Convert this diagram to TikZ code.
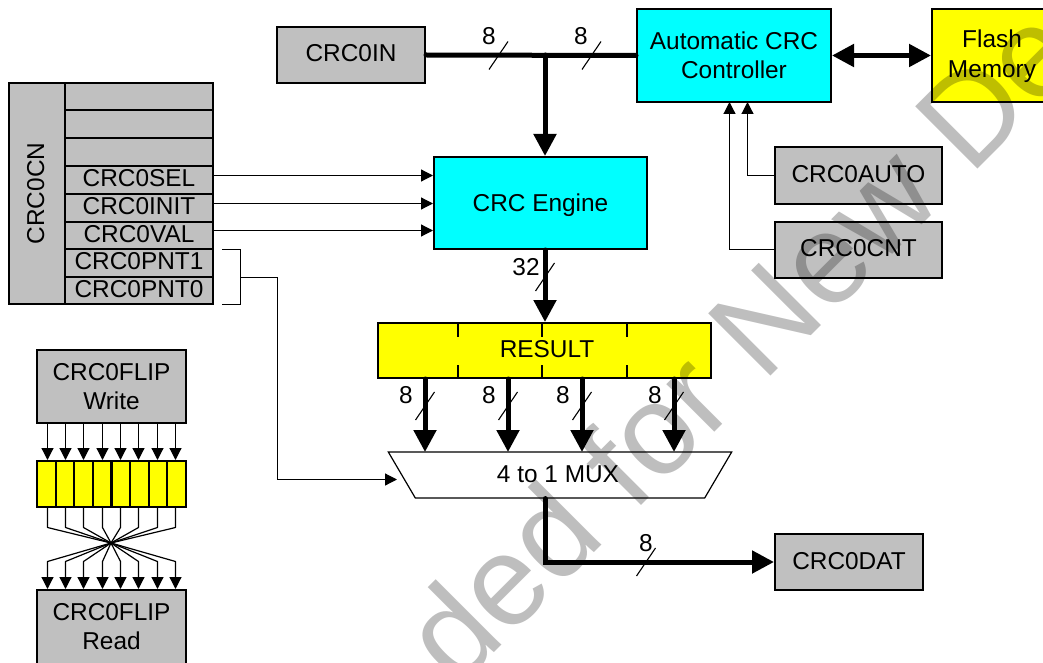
\documentclass[tikz,border=0pt]{standalone}
\usepackage{fontspec}
\setmainfont{Liberation Sans}
\usetikzlibrary{arrows.meta,shapes.geometric,calc}
\definecolor{boxgray}{RGB}{192,192,192}
\definecolor{wmgray}{RGB}{190,190,190}
\definecolor{pureyellow}{RGB}{255,255,0}
\definecolor{purecyan}{RGB}{0,255,255}
\tikzset{
  every node/.style={font=\fontsize{24.4}{29.5}\selectfont,inner sep=0pt,text height=18pt,text depth=4pt},
  box/.style={draw=black,line width=2pt,minimum width=#1,align=center},
  graybox/.style={box=#1,fill=boxgray,minimum height=56pt},
  cyanbox/.style={box=#1,fill=purecyan,text height=,text depth=},
  regrow/.style={draw=black,line width=2pt,fill=boxgray,minimum width=148pt,text depth=5pt},
  cell/.style={draw=black,line width=2pt,fill=pureyellow,minimum width=18.6pt,minimum height=46pt},
  wire/.style={line width=1.2pt,-{Triangle[width=12pt,length=12pt]}},
  plain/.style={line width=1.2pt},
  bus/.style={line width=5pt,line cap=round},
  busarrow/.style={bus,-{Triangle[width=22pt,length=22pt]}},
  dbus/.style={line width=5pt,{Triangle[width=22pt,length=22pt]}-{Triangle[width=22pt,length=22pt]}},
  slashline/.style={line width=1.1pt},
  widthlabel/.style={text height=,text depth=}
}
\begin{document}
\begin{tikzpicture}[x=1pt,y=-1pt]
\useasboundingbox (0,0) rectangle (1043,663);
\begin{scope}
\clip (0,0) rectangle (1043,663);

% top row
\node[graybox=148pt] (in) at (351,55) {CRC0IN};
\node[cyanbox=194pt,minimum height=93pt] (ctrl) at (734,55.5) {Automatic CRC\\Controller};
\node[box=120pt,fill=pureyellow,minimum height=93pt,text height=,text depth=] (flash) at (992,55.5) {\rule{0pt}{19pt}Flash\\Memory};
\node[graybox=167pt] (auto) at (858.5,175.5) {CRC0AUTO};
\node[graybox=167pt] (cnt) at (858.5,249.5) {CRC0CNT};
\node[cyanbox=213pt,minimum height=92pt,text height=17pt,text depth=0pt] (engine) at (540.5,203) {CRC Engine};

% CRC0CN register
\node[draw=black,line width=2pt,fill=boxgray,minimum width=56pt,minimum height=221pt] (cn) at (37,193.5) {};
\node[rotate=90] (cnlabel) at (cn.center) {CRC0CN};
\node[regrow,minimum height=27.5pt] (r1) at (139,96.5) {};
\node[regrow,minimum height=28pt] (r2) at (139,124) {};
\node[regrow,minimum height=28pt] (r3) at (139,152) {};
\node[regrow,minimum height=28pt] (r4) at (139,180) {CRC0SEL};
\node[regrow,minimum height=28pt] (r5) at (139,208) {CRC0INIT};
\node[regrow,minimum height=27.5pt] (r6) at (139,235.5) {CRC0VAL};
\node[regrow,minimum height=27.5pt] (r7) at (139,263) {CRC0PNT1};
\node[regrow,minimum height=27.5pt] (r8) at (139,290.5) {CRC0PNT0};

% RESULT
\node[box=333pt,fill=pureyellow,minimum height=55pt] (result) at (544.5,350.5) {\hspace*{5pt}RESULT};
\foreach \x in {458,542,627}{
  \draw[line width=1.6pt] (\x,323) -- (\x,337);
  \draw[line width=1.6pt] (\x,365) -- (\x,378);
}

% MUX
\node[draw=black,line width=1.2pt,fill=white,trapezium,shape border rotate=180,trapezium angle=63.4,trapezium stretches=true,minimum width=344pt,minimum height=46pt] (mux) at (560,475) {\hspace*{-4pt}4 to 1 MUX};
\node[graybox=148pt] (dat) at (849,562) {CRC0DAT};

% FLIP
\node[box=149pt,fill=boxgray,minimum height=73pt,text height=,text depth=] (fw) at (111.5,386.5) {CRC0FLIP\\Write};
\node[box=149pt,fill=boxgray,minimum height=84pt,text height=,text depth=] (fr) at (111.5,632) {};
\node (frlabel) at (111.5,626.5) [align=center,text height=,text depth=] {CRC0FLIP\\Read};
\foreach \i in {1,...,8}{
  \node[cell] (c\i) at ({37+18.625*(\i-0.5)},484) {};
}
\coordinate (cross) at (111,543);
\coordinate (bendtop) at (0,527.5);
\coordinate (bendbot) at (0,561.5);
\foreach \i/\x in {1/47.5,2/65.5,3/83.5,4/102.5,5/120.5,6/138.5,7/157.5,8/175.5}{
  \coordinate (a\i) at (\x,0);
  \draw[wire] (a\i |- fw.south) -- (a\i |- c\i.north);
  \draw[wire,line join=round] (a\i |- c\i.south) -- (a\i |- bendtop) -- (cross) -- (a\i |- bendbot) -- (a\i |- fr.north);
}

% control wires
\coordinate (sel) at (0,175.5);
\coordinate (init) at (0,203.5);
\coordinate (val) at (0,230.5);
\draw[wire] (r4.east |- sel) -- (engine.west |- sel);
\draw[wire] (r5.east |- init) -- (engine.west |- init);
\draw[wire] (r6.east |- val) -- (engine.west |- val);
\coordinate (ctrlA) at (747.5,102);
\coordinate (ctrlB) at (729.5,102);
\draw[wire] (auto.west) -| (ctrlA);
\draw[wire] (cnt.west) -| (ctrlB);

% pointer bracket
\coordinate (brA) at (222,249.5);
\coordinate (brB) at (240.5,249.5);
\coordinate (brC) at (240.5,304.5);
\coordinate (brD) at (222,304.5);
\draw[plain] (brA) -- (brB) -- (brC) -- (brD);
\coordinate (brM) at (240.5,277.5);
\coordinate (muxin) at (397,479.5);
\draw[wire] (brM) -- (277.5,277.5) |- (muxin);

% buses
\coordinate (jn) at (545,55);
\draw[bus] (in.east) -- (ctrl.west);
\draw[busarrow] (jn) -- (jn |- engine.north);
\draw[dbus] (ctrl.east) -- (flash.west);
\draw[busarrow] (jn |- engine.south) -- (jn |- result.north);
\foreach \n/\x in {1/425,2/508,3/582,4/674}{
  \coordinate (m\n) at (\x,452);
  \draw[busarrow] (m\n |- result.south) -- (m\n);
}
\coordinate (oj) at (545,562);
\draw[busarrow] (jn |- mux.south) -- (oj) -- (dat.west);

% width marks
\foreach \x/\y in {498.5/55.5,591.5/55.5,545/277,425/406,508/406,582/406,674/406,646/562}{
  \draw[slashline] (\x-9.5,\y+14) -- (\x+9.5,\y-14);
}
\node[widthlabel] (w1) at (489,36) {8};
\node[widthlabel] (w2) at (581,36) {8};
\node[widthlabel] (w3) at (526,267) {32};
\node[widthlabel] (w4) at (406,395) {8};
\node[widthlabel] (w5) at (489,395) {8};
\node[widthlabel] (w6) at (563,395) {8};
\node[widthlabel] (w7) at (655,395) {8};
\node[widthlabel] (w8) at (646,543) {8};

% watermark
\begin{scope}[blend mode=multiply]
\node[anchor=base west,rotate=45,text=wmgray,text height=,text depth=,font=\fontsize{128}{128}\selectfont] (wm) at (970,177) {\llap{ded for New\ }De};
\end{scope}
\end{scope}
\end{tikzpicture}
\end{document}
